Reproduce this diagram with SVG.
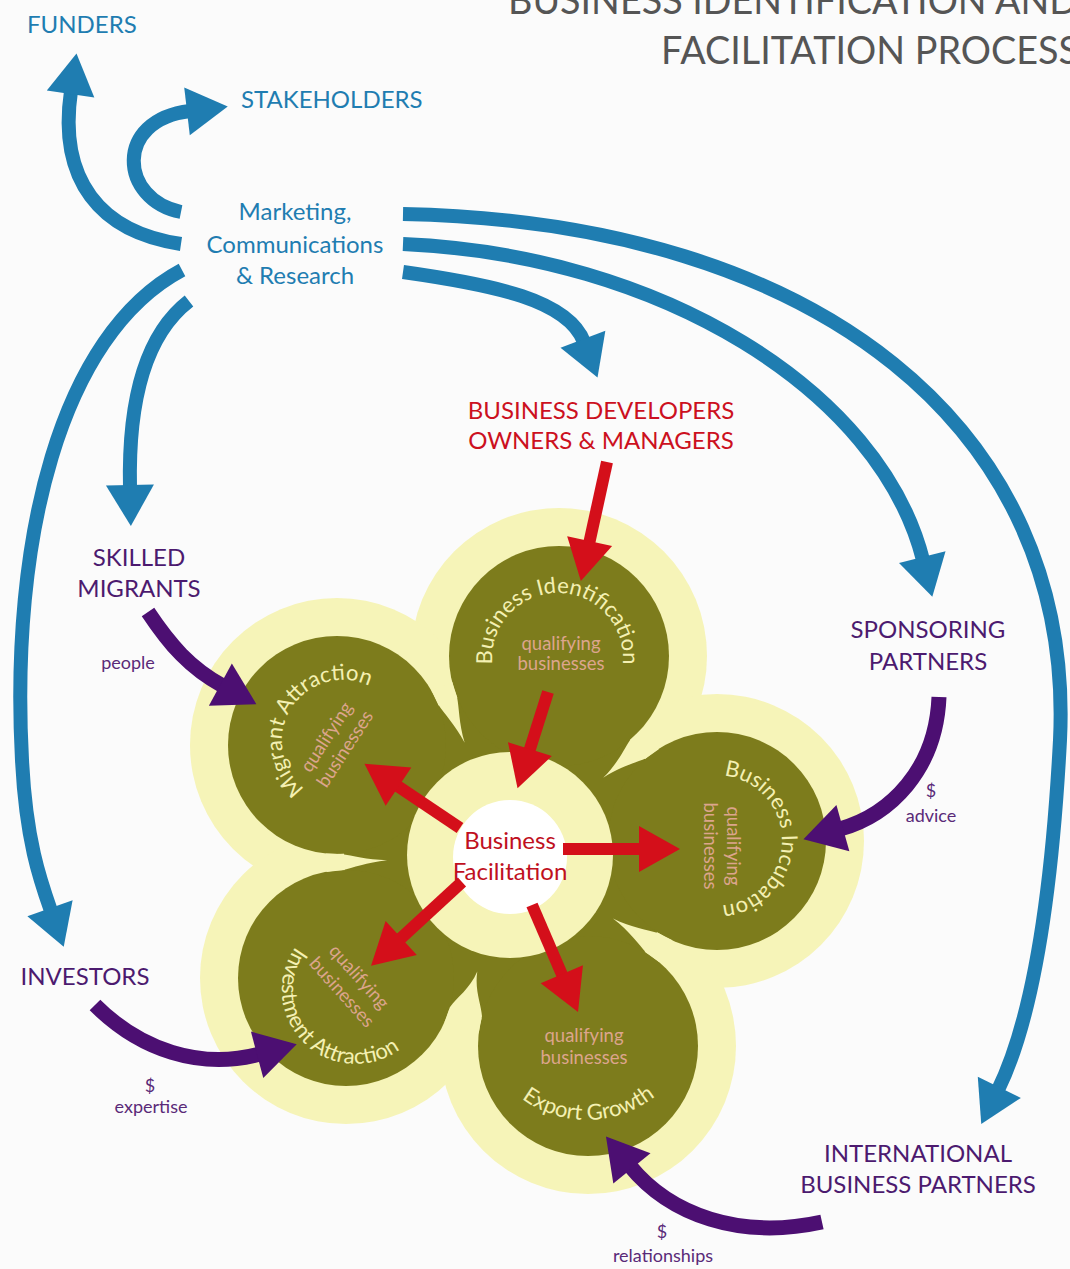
<svg xmlns="http://www.w3.org/2000/svg" width="1070" height="1269" viewBox="0 0 1070 1269">
<style>
.t{font-family:Lato,"Open Sans","Liberation Sans",sans-serif}
.cap{font-size:24px}
.blue{fill:#1f7db1}
.purple{fill:#4c1a6f}
.red{fill:#cc1020}
.petal{font-size:22px;fill:#f4f0b2}
.q{font-size:18.5px;fill:#dca58c;text-anchor:middle}
.small{font-size:18px;fill:#5a2a78;text-anchor:middle}
.mid{text-anchor:middle}
.olive{fill:#7d7c1c}
.pale{fill:#f6f4b8}
.sb{fill:none;stroke:#1f7db1;stroke-width:14}
.sp{fill:none;stroke:#4c0f72;stroke-width:15}
.sr{fill:none;stroke:#d40f1a;stroke-width:12}
</style>
<defs>
<marker id="hb" markerUnits="userSpaceOnUse" markerWidth="42" markerHeight="48" viewBox="0 0 42 48" refX="3" refY="24" orient="auto" overflow="visible"><path d="M0,0 L41,24 L0,48 Z" fill="#1f7db1"/></marker>
<marker id="hp" markerUnits="userSpaceOnUse" markerWidth="42" markerHeight="48" viewBox="0 0 42 48" refX="3" refY="24" orient="auto" overflow="visible"><path d="M0,0 L41,24 L0,48 Z" fill="#4c0f72"/></marker>
<marker id="hr" markerUnits="userSpaceOnUse" markerWidth="42" markerHeight="46" viewBox="0 0 42 46" refX="3" refY="23" orient="auto" overflow="visible"><path d="M0,0 L41,23 L0,46 Z" fill="#d40f1a"/></marker>
<path id="arcIdent" d="M524.8,715.2 A65.5,65.5 0 1 1 590.2,715.2"/>
<path id="arcMigrant" d="M369.7,795.7 A61,61 0 1 1 403.9,741.1"/>
<path id="arcIncub" d="M660.9,807.5 A65,65 0 1 1 659.9,871.5"/>
<path id="arcInvest" d="M376.5,918.9 A74,74 0 1 0 426.6,968.4"/>
<path id="arcExport" d="M530.3,915.7 A110,110 0 1 0 640.3,913.8"/>
</defs>
<rect x="0" y="0" width="1070" height="1269" fill="#fbfbfb"/>

<g id="title" class="t" fill="#555555" font-size="38">
<text x="508" y="14" textLength="570" lengthAdjust="spacingAndGlyphs">BUSINESS IDENTIFICATION AND</text>
<text x="661" y="64" textLength="418" lengthAdjust="spacingAndGlyphs">FACILITATION PROCESS</text>
</g>

<g id="flower-base">
<g class="pale">
<circle cx="510" cy="855" r="230"/>
<circle cx="559" cy="656" r="148"/>
<circle cx="337" cy="745" r="147"/>
<circle cx="717" cy="841" r="147"/>
<circle cx="346" cy="978" r="146"/>
<circle cx="588" cy="1046" r="148"/>
</g>
<g class="olive">
<circle cx="510" cy="855" r="166"/>
<circle cx="559" cy="656" r="110"/>
<circle cx="337" cy="745" r="109"/>
<circle cx="717" cy="841" r="109"/>
<circle cx="346" cy="978" r="108"/>
<circle cx="588" cy="1046" r="110"/>
</g>
<g class="pale">
<path transform="translate(510,855) rotate(-39.6)" d="M121,0 C142,-2 155,-9 166.5,-12.2 L182,-13.4 L182,13.4 L166.5,12.2 C155,9 142,2 121,0 Z"/>
<path transform="translate(510,855) rotate(31.7)" d="M121,0 C142,-2 156,-8.5 167.6,-11.6 L183,-12.8 L183,12.8 L167.6,11.6 C156,8.5 142,2 121,0 Z"/>
<path transform="translate(510,855) rotate(105.7)" d="M121,0 C140,-2.5 151,-12.5 162.9,-16.7 L179,-17.9 L179,17.9 L162.9,16.7 C151,12.5 140,2.5 121,0 Z"/>
<path transform="translate(510,855) rotate(177.6)" d="M123,0 C144,-1.5 157,-6 168.6,-8.1 L184,-9.3 L184,9.3 L168.6,8.1 C157,6 144,1.5 123,0 Z"/>
<path transform="translate(510,855) rotate(-112)" d="M121,0 C142,-2 155,-8 166.5,-10.1 L182,-11.3 L182,11.3 L166.5,10.1 C155,8 142,2 121,0 Z"/>
<circle cx="510" cy="855" r="103"/>
</g>
<circle cx="510" cy="857" r="57" fill="#ffffff"/>
</g>

<g id="connectors">
<path class="sb" marker-end="url(#hb)" d="M181,244 C100,232 58,180 71,91"/>
<path class="sb" marker-end="url(#hb)" d="M181,212 C120,200 113,120 190,111"/>
<path class="sb" marker-end="url(#hb)" d="M189,301 C145,335 128,400 130,488"/>
<path class="sb" marker-end="url(#hb)" d="M182,270 C60,335 10,540 22,760 C26,840 40,880 51,911"/>
<path class="sb" marker-end="url(#hb)" d="M403,272 C495,285 568,300 584,342"/>
<path class="sb" marker-end="url(#hb)" d="M403,244 C660,255 880,390 923,560"/>
<path class="sb" marker-end="url(#hb)" d="M403,214 C820,222 1075,430 1060,740 C1050,930 1025,1035 998,1090"/>
<path class="sr" marker-end="url(#hr)" d="M607,462 L589,544"/>
<path class="sr" marker-end="url(#hr)" d="M548,692 L529,752"/>
<path class="sr" marker-end="url(#hr)" d="M460,828 L396,785"/>
<path class="sr" marker-end="url(#hr)" d="M563,849 L642,849"/>
<path class="sr" marker-end="url(#hr)" d="M462,882 L399,940"/>
<path class="sr" marker-end="url(#hr)" d="M532,905 L563,977"/>
<path class="sp" marker-end="url(#hp)" d="M148,612 C170,645 190,668 223,686"/>
<path class="sp" marker-end="url(#hp)" d="M939,697 C936,770 890,815 840,829"/>
<path class="sp" marker-end="url(#hp)" d="M95,1005 C140,1050 200,1070 260,1054"/>
<path class="sp" marker-end="url(#hp)" d="M822,1222 C740,1240 670,1215 630,1166"/>
</g>

<g id="marketing" class="t blue mid" font-size="24">
<text x="295" y="220">Marketing,</text>
<text x="295" y="253">Communications</text>
<text x="295" y="284">&amp; Research</text>
</g>
<g id="funders"><text class="t cap blue" x="27" y="33">FUNDERS</text></g>
<g id="stakeholders"><text class="t cap blue" x="241" y="108">STAKEHOLDERS</text></g>
<g id="developers" class="t cap red mid">
<text x="601" y="419">BUSINESS DEVELOPERS</text>
<text x="601" y="449">OWNERS &amp; MANAGERS</text>
</g>
<g id="skilled-migrants" class="t cap purple mid">
<text x="139" y="566">SKILLED</text>
<text x="139" y="597">MIGRANTS</text>
<text class="small" x="128" y="669">people</text>
</g>
<g id="sponsoring" class="t cap purple mid">
<text x="928" y="638">SPONSORING</text>
<text x="928" y="670">PARTNERS</text>
<text class="small" x="931" y="797">$</text>
<text class="small" x="931" y="822">advice</text>
</g>
<g id="investors" class="t cap purple mid">
<text x="85" y="985">INVESTORS</text>
<text class="small" x="150" y="1092">$</text>
<text class="small" x="151" y="1113">expertise</text>
</g>
<g id="international" class="t cap purple mid">
<text x="918" y="1162">INTERNATIONAL</text>
<text x="918" y="1193">BUSINESS PARTNERS</text>
<text class="small" x="662" y="1238">$</text>
<text class="small" x="663" y="1262">relationships</text>
</g>

<g id="business-identification" class="t">
<text class="petal"><textPath href="#arcIdent" startOffset="50%" text-anchor="middle">Business Identification</textPath></text>
<text class="q" x="561" y="650">qualifying</text>
<text class="q" x="561" y="670">businesses</text>
</g>
<g id="migrant-attraction" class="t">
<text class="petal"><textPath href="#arcMigrant" startOffset="50%" text-anchor="middle">Migrant Attraction</textPath></text>
<g transform="translate(336,743) rotate(-57)">
<text class="q" x="0" y="-5">qualifying</text>
<text class="q" x="0" y="17">businesses</text>
</g>
</g>
<g id="business-incubation" class="t">
<text class="petal"><textPath href="#arcIncub" startOffset="50%" text-anchor="middle">Business Incubation</textPath></text>
<g transform="translate(720,846) rotate(90)">
<text class="q" x="0" y="-7">qualifying</text>
<text class="q" x="0" y="16">businesses</text>
</g>
</g>
<g id="investment-attraction" class="t">
<text class="petal"><textPath href="#arcInvest" startOffset="50%" text-anchor="middle">Investment Attraction</textPath></text>
<g transform="translate(350,985) rotate(48)">
<text class="q" x="0" y="-6">qualifying</text>
<text class="q" x="0" y="17">businesses</text>
</g>
</g>
<g id="export-growth" class="t">
<text class="petal" font-size="23"><textPath href="#arcExport" startOffset="50%" text-anchor="middle">Export Growth</textPath></text>
<text class="q" x="584" y="1042">qualifying</text>
<text class="q" x="584" y="1064">businesses</text>
</g>
<g id="business-facilitation" class="t mid" font-size="24" fill="#c0101e">
<text x="510" y="849">Business</text>
<text x="510" y="880">Facilitation</text>
</g>
</svg>
